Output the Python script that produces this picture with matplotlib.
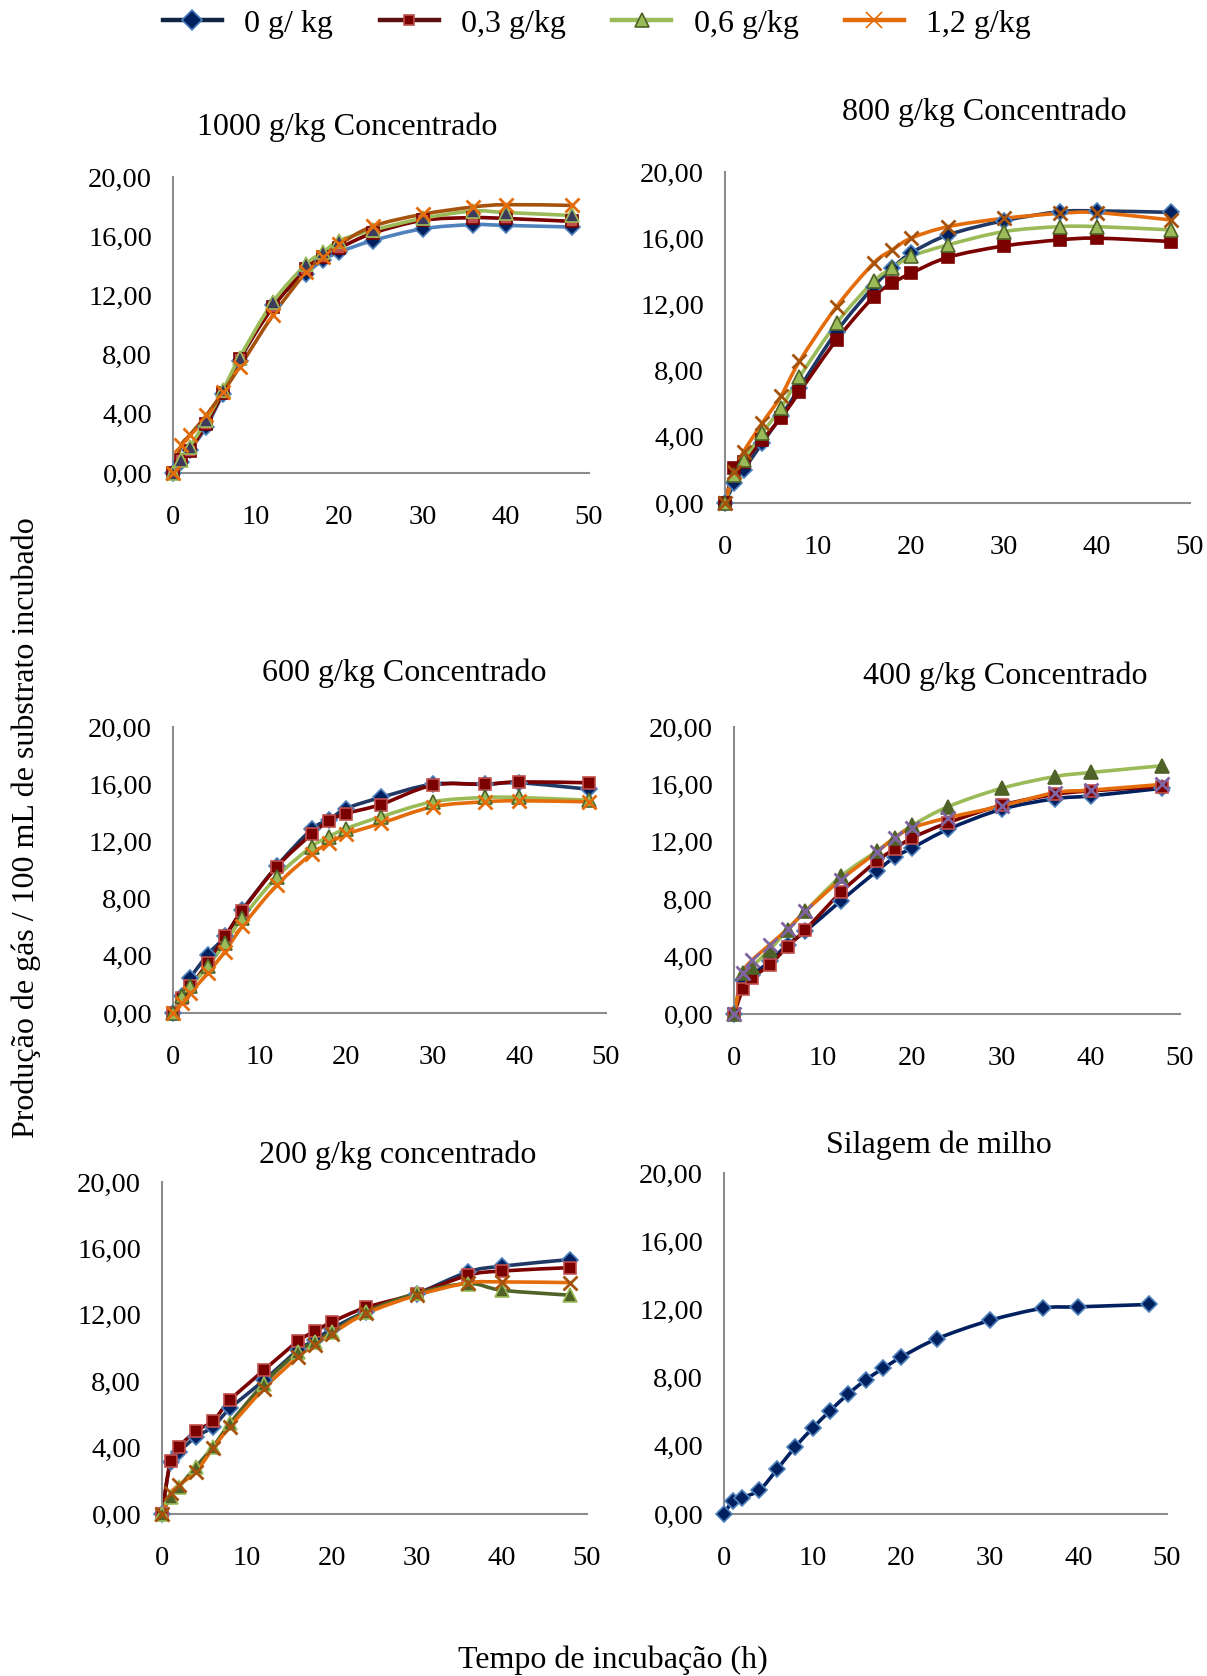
import matplotlib
matplotlib.use('Agg')
import matplotlib.pyplot as plt
import numpy as np
from matplotlib.path import Path
from matplotlib.patches import PathPatch
from matplotlib.lines import Line2D

plt.rcParams['font.family'] = ['Liberation Serif', 'DejaVu Serif']

W, H = 1207, 1676

# incubation times (h)
hours = [0, 1, 2, 4, 6, 8, 12, 16, 18, 20, 24, 30, 36, 40, 48]
hours_silage = [0, 1, 2, 4, 6, 8, 10, 12, 14, 16, 18, 20, 24, 30, 36, 40, 48]

doses = ['0 g/ kg', '0,3 g/kg', '0,6 g/kg', '1,2 g/kg']

# 1000 g/kg concentrado
c1000_d0 = [0, 0.74, 1.53, 3.10, 5.36, 7.60, 11.33, 13.47, 14.37, 14.93, 15.70, 16.50, 16.78, 16.73, 16.62]
c1000_d03 = [0, 0.85, 1.50, 3.30, 5.40, 7.70, 11.20, 13.80, 14.60, 15.20, 16.20, 17.07, 17.25, 17.20, 17.00]
c1000_d06 = [0, 0.85, 1.75, 3.55, 5.60, 7.80, 11.55, 14.10, 14.90, 15.70, 16.40, 17.20, 17.70, 17.60, 17.40]
c1000_d12 = [0, 1.87, 2.55, 3.90, 5.47, 7.16, 10.65, 13.58, 14.60, 15.45, 16.67, 17.48, 17.97, 18.13, 18.08]

# 800 g/kg concentrado
c800_d0 = [0, 1.20, 2.00, 3.62, 5.23, 6.94, 10.36, 13.08, 14.20, 15.10, 16.20, 17.06, 17.60, 17.65, 17.56]
c800_d03 = [0, 2.10, 2.50, 3.82, 5.13, 6.70, 9.86, 12.47, 13.28, 13.88, 14.85, 15.53, 15.90, 16.00, 15.80]
c800_d06 = [0, 1.70, 2.60, 4.22, 5.73, 7.60, 10.87, 13.40, 14.20, 14.90, 15.60, 16.40, 16.70, 16.70, 16.50]
c800_d12 = [0, 1.90, 3.10, 4.83, 6.44, 8.55, 11.87, 14.50, 15.30, 16.00, 16.70, 17.20, 17.50, 17.55, 17.10]

# 600 g/kg concentrado
c600_d0 = [0, 1.16, 2.44, 4.07, 5.35, 7.20, 10.28, 12.84, 13.50, 14.30, 15.07, 16.00, 16.00, 16.10, 15.65]
c600_d03 = [0, 1.05, 1.86, 3.49, 5.35, 7.14, 10.23, 12.50, 13.42, 13.95, 14.58, 15.93, 16.00, 16.16, 16.10]
c600_d06 = [0, 1.16, 1.86, 3.26, 4.88, 6.63, 9.53, 11.63, 12.33, 12.90, 13.72, 14.77, 15.07, 15.07, 14.88]
c600_d12 = [0, 0.70, 1.40, 2.79, 4.30, 6.05, 8.95, 11.12, 11.86, 12.50, 13.26, 14.42, 14.77, 14.84, 14.77]

# 400 g/kg concentrado
c400_d0 = [0, 2.38, 2.73, 3.66, 4.83, 5.76, 7.90, 9.95, 10.93, 11.58, 12.87, 14.27, 15.00, 15.20, 15.73]
c400_d03 = [0, 1.72, 2.50, 3.43, 4.70, 5.87, 8.48, 10.65, 11.50, 12.28, 13.33, 14.55, 15.30, 15.55, 15.85]
c400_d06 = [0, 2.84, 3.31, 4.48, 5.87, 7.16, 9.60, 11.35, 12.28, 13.15, 14.45, 15.73, 16.55, 16.83, 17.30]
c400_d12 = [0, 2.84, 3.73, 4.83, 5.92, 7.16, 9.37, 11.28, 12.28, 12.98, 13.68, 14.50, 15.43, 15.60, 16.00]

# 200 g/kg concentrado
c200_d0 = [0, 3.15, 3.75, 4.65, 5.26, 6.36, 8.06, 9.87, 10.47, 11.17, 12.18, 13.28, 14.58, 14.93, 15.33]
c200_d03 = [0, 3.21, 4.05, 5.00, 5.60, 6.86, 8.67, 10.41, 11.01, 11.57, 12.44, 13.28, 14.38, 14.64, 14.84]
c200_d06 = [0, 1.04, 1.64, 2.85, 4.05, 5.46, 7.86, 9.77, 10.37, 10.97, 12.18, 13.30, 13.88, 13.48, 13.18]
c200_d12 = [0, 1.24, 1.75, 2.55, 3.96, 5.26, 7.56, 9.47, 10.17, 10.87, 12.08, 13.18, 13.92, 13.98, 13.94]

# silagem de milho
silage = [0, 0.76, 0.96, 1.41, 2.62, 3.91, 5.03, 6.07, 7.03, 7.87, 8.55, 9.20, 10.27, 11.35, 12.07, 12.15, 12.29]

yticks = [0, 4, 8, 12, 16, 20]
xticks = [0, 10, 20, 30, 40, 50]

NAVY = '#1F3864'
DARKNAVY = '#002060'
LBLUE = '#4F81BD'
DRED = '#7B0000'
LRED = '#C0504D'
GREEN = '#9BBB59'
OLIVE = '#4F6228'
ORANGE = '#E46C0A'
BROWN = '#A5520D'
PURPLE = '#8064A2'

base_style = [
    dict(lc=NAVY, m='D', mfc=DARKNAVY, mec=LBLUE, ms=8.5),
    dict(lc=DRED, m='s', mfc=DRED, mec=LRED, ms=8),
    dict(lc=GREEN, m='^', mfc=GREEN, mec=OLIVE, ms=9.5),
    dict(lc=ORANGE, m='x', mfc=ORANGE, mec=BROWN, ms=10.5),
]


def style_with(overrides):
    out = [dict(s) for s in base_style]
    for i, o in overrides.items():
        out[i].update(o)
    return out


def px(x, y):
    return x / W, 1 - y / H


def axes_box(left, top, right, bottom):
    return [left / W, 1 - bottom / H, (right - left) / W, (bottom - top) / H]


def smooth_path(x, y):
    # Excel-style smoothed line: cubic Bezier through every point
    pts = np.column_stack([x, y]).astype(float)
    ext = np.vstack([pts[0], pts, pts[-1]])
    verts = [pts[0]]
    codes = [Path.MOVETO]
    for i in range(len(pts) - 1):
        p0, p1, p2, p3 = ext[i], ext[i + 1], ext[i + 2], ext[i + 3]
        verts += [p1 + (p2 - p0) / 6, p2 - (p3 - p1) / 6, p2]
        codes += [Path.CURVE4] * 3
    return Path(verts, codes)


def draw_panel(fig, box, title, title_xy, x, series, styles):
    ax = fig.add_axes(box)
    for y, st in zip(series, styles):
        patch = PathPatch(smooth_path(x, y), transform=ax.transData, fill=False,
                          ec=st['lc'], lw=2.6, capstyle='round', joinstyle='round',
                          clip_on=False, zorder=2)
        ax.add_patch(patch)
    for y, st in zip(series, styles):
        mew = 2.0 if st['m'] == 'x' else 1.2
        mec = st['mfc'] if st['m'] == 'x' else st['mec']
        ax.plot(x, y, linestyle='none', marker=st['m'], ms=st['ms'], mfc=st['mfc'],
                mec=mec, mew=mew, clip_on=False, zorder=3)
    ax.set_xlim(0, 50)
    ax.set_ylim(0, 20)
    ax.set_xticks(xticks)
    ax.set_yticks(yticks)
    ax.set_yticklabels([f"{v:.2f}".replace('.', ',') for v in yticks])
    for s in ['top', 'right']:
        ax.spines[s].set_visible(False)
    for s in ['left', 'bottom']:
        ax.spines[s].set_color('#8C8C8C')
        ax.spines[s].set_linewidth(1.5)
    ax.tick_params(axis='both', length=0, labelsize=20.5)
    ax.tick_params(axis='y', pad=15)
    ax.tick_params(axis='x', pad=23)
    ax.patch.set_alpha(0)
    tx, ty = px(*title_xy)
    fig.text(tx, ty, title, ha='center', va='center', fontsize=23)
    return ax


fig = plt.figure(figsize=(W / 100, H / 100), dpi=100)

draw_panel(fig, axes_box(173, 177, 589, 473), '1000 g/kg Concentrado', (347, 127),
           hours, [c1000_d0, c1000_d03, c1000_d06, c1000_d12],
           style_with({0: dict(lc=LBLUE), 1: dict(mfc=LRED, mec=DRED),
                       2: dict(mfc='#3D3A5C', mec=GREEN), 3: dict(lc=BROWN)}))

draw_panel(fig, axes_box(725, 172, 1190, 503), '800 g/kg Concentrado', (984, 112),
           hours, [c800_d0, c800_d03, c800_d06, c800_d12],
           style_with({1: dict(mec=DRED), 3: dict(mfc=BROWN)}))

draw_panel(fig, axes_box(173, 727, 606, 1013), '600 g/kg Concentrado', (404, 673),
           hours, [c600_d0, c600_d03, c600_d06, c600_d12],
           style_with({}))

draw_panel(fig, axes_box(734, 727, 1180, 1014), '400 g/kg Concentrado', (1005, 676),
           hours, [c400_d0, c400_d03, c400_d06, c400_d12],
           style_with({0: dict(lc=DARKNAVY), 2: dict(mfc=OLIVE, mec=OLIVE),
                       3: dict(mfc=PURPLE)}))

draw_panel(fig, axes_box(162, 1182, 587, 1514), '200 g/kg concentrado', (398, 1155),
           hours, [c200_d0, c200_d03, c200_d06, c200_d12],
           style_with({2: dict(lc=OLIVE, mfc=OLIVE, mec=GREEN), 3: dict(mfc=BROWN)}))

draw_panel(fig, axes_box(724, 1173, 1167, 1514), 'Silagem de milho', (939, 1145),
           hours_silage, [silage],
           [dict(lc=DARKNAVY, m='D', mfc=DARKNAVY, mec=LBLUE, ms=8.5)])

# legend
legend_styles = [
    dict(lc='#0F2541', m='D', mfc=DARKNAVY, mec=LBLUE, ms=10),
    dict(lc='#5C1010', m='s', mfc=DRED, mec=LRED, ms=7.5),
    dict(lc=GREEN, m='^', mfc=GREEN, mec=OLIVE, ms=10),
    dict(lc=ORANGE, m='x', mfc=ORANGE, mec=ORANGE, ms=12),
]
handles = [Line2D([], [], color=s['lc'], lw=3.2, marker=s['m'], ms=s['ms'],
                  mfc=s['mfc'], mec=s['mec'], mew=1.2) for s in legend_styles]
lx, ly = px(597, 24)
fig.legend(handles, doses, loc='center', bbox_to_anchor=(lx, ly), ncol=4,
           frameon=False, fontsize=23, handlelength=1.85, handletextpad=0.7,
           columnspacing=1.45)

x_, y_ = px(26, 828)
fig.text(x_, y_, 'Produção de gás / 100 mL de substrato incubado', rotation=90,
         ha='center', va='center', fontsize=23)
x_, y_ = px(613, 1660)
fig.text(x_, y_, 'Tempo de incubação (h)', ha='center', va='center', fontsize=23)

fig.savefig('out.png', dpi=100)
